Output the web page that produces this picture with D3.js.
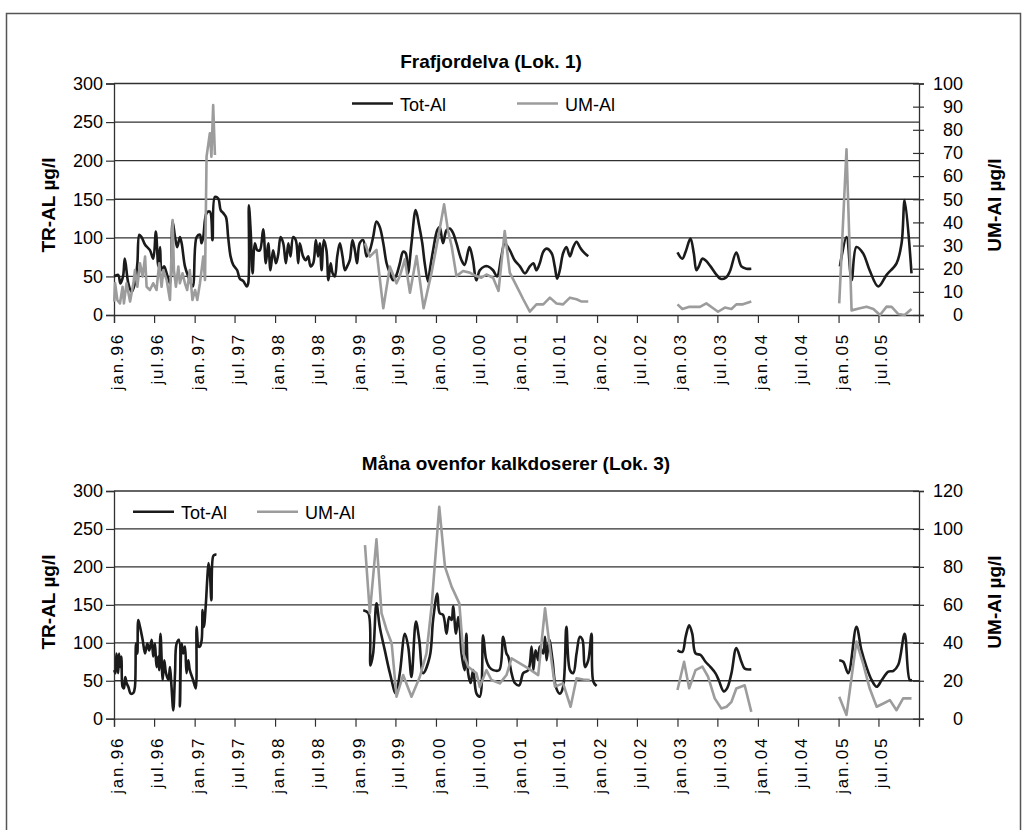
<!DOCTYPE html>
<html>
<head>
<meta charset="utf-8">
<script src="https://cdn.jsdelivr.net/npm/d3@7"></script>
<style>
  body { margin: 0; background: #fff; }
  svg { display: block; }
  text { font-family: "Liberation Sans", Arial, Helvetica, sans-serif; fill: #000; }
</style>
</head>
<body>
<svg id="chart" width="1027" height="830"></svg>
<script>
// ---- Data: aluminium measurements, [sampling date, µg/l]; null marks a break in the series ----
const xTickLabels = ["jan.96","jul.96","jan.97","jul.97","jan.98","jul.98","jan.99","jul.99","jan.00","jul.00",
                     "jan.01","jul.01","jan.02","jul.02","jan.03","jul.03","jan.04","jul.04","jan.05","jul.05"];

// Frafjordelva (Lok. 1) – Tot-Al
const lok1TotAl = [
  ["1996-01-02",50],["1996-01-20",52],["1996-01-30",41],["1996-02-11",50],["1996-02-19",73],["1996-03-06",41],
  ["1996-03-21",30],["1996-04-05",41],["1996-04-16",67],["1996-04-25",104],["1996-05-05",101],["1996-05-21",91],
  ["1996-06-12",84],["1996-06-27",73],["1996-07-09",108],["1996-07-20",63],["1996-07-28",88],["1996-08-04",58],
  ["1996-08-15",63],["1996-08-27",54],["1996-09-11",41],["1996-09-23",121],["1996-10-04",101],["1996-10-14",88],
  ["1996-10-26",101],["1996-11-03",93],["1996-11-18",63],["1996-12-03",50],["1996-12-23",37],["1997-01-10",101],
  ["1997-01-25",104],["1997-02-01",93],["1997-02-09",101],["1997-02-24",132],["1997-03-11",134],["1997-03-23",97],
  ["1997-04-03",153],["1997-04-18",151],["1997-04-29",136],["1997-05-11",132],["1997-05-23",127],["1997-06-02",101],
  ["1997-06-13",76],["1997-06-25",65],["1997-07-13",58],["1997-07-25",47],["1997-08-10",44],["1997-08-25",37],
  ["1997-09-01",41],["1997-09-04",142],["1997-09-12",110],["1997-09-21",54],["1997-10-01",93],["1997-10-12",84],
  ["1997-10-24",84],["1997-11-08",111],["1997-11-20",67],["1997-12-01",93],["1997-12-11",58],["1997-12-23",84],
  ["1998-01-05",67],["1998-01-15",78],["1998-01-26",101],["1998-02-07",93],["1998-02-19",67],["1998-03-02",93],
  ["1998-03-12",76],["1998-03-24",101],["1998-04-05",97],["1998-04-16",67],["1998-04-23",93],["1998-05-08",76],
  ["1998-05-20",71],["1998-05-31",76],["1998-06-11",63],["1998-06-23",67],["1998-07-05",97],["1998-07-15",76],
  ["1998-07-23",93],["1998-07-31",58],["1998-08-10",97],["1998-08-22",84],["1998-08-31",45],["1998-09-10",67],
  ["1998-09-19",54],["1998-09-29",50],["1998-10-10",76],["1998-10-22",93],["1998-11-03",76],["1998-11-14",58],
  ["1998-11-24",63],["1998-12-06",71],["1998-12-18",97],["1998-12-29",84],["1999-01-08",67],["1999-01-20",93],
  ["1999-02-05",97],["1999-02-20",76],["1999-03-07",84],["1999-03-22",101],["1999-04-06",121],["1999-04-21",114],
  ["1999-05-07",93],["1999-05-22",67],["1999-06-06",54],["1999-06-21",45],["1999-07-06",52],["1999-07-21",67],
  ["1999-08-05",82],["1999-08-17",80],["1999-08-27",54],["1999-09-12",93],["1999-10-01",136],["1999-10-16",117],
  ["1999-10-31",93],["1999-11-11",67],["1999-11-26",43],["1999-12-04",58],["1999-12-19",84],["2000-01-07",110],
  ["2000-01-18",114],["2000-02-02",93],["2000-02-18",110],["2000-03-04",112],["2000-03-19",106],["2000-04-03",93],
  ["2000-04-26",71],["2000-05-10",65],["2000-06-01",88],["2000-06-17",71],["2000-07-02",45],["2000-07-18",58],
  ["2000-08-09",63],["2000-08-24",63],["2000-09-16",58],["2000-10-04",50],["2000-10-24",76],["2000-11-08",93],
  ["2000-12-01",84],["2000-12-23",71],["2001-01-16",63],["2001-02-08",54],["2001-03-02",63],["2001-03-18",67],
  ["2001-04-01",58],["2001-04-16",67],["2001-05-02",82],["2001-05-17",86],["2001-06-09",80],["2001-06-23",63],
  ["2001-07-04",47],["2001-07-16",58],["2001-07-31",80],["2001-08-15",88],["2001-08-31",76],["2001-09-15",88],
  ["2001-09-30",95],["2001-10-15",88],["2001-10-30",82],["2001-11-22",76],
  ["2002-06-01",null],
  ["2003-01-01",81],["2003-01-23",73],["2003-02-07",82],["2003-03-01",99],["2003-03-16",80],["2003-03-28",58],
  ["2003-04-08",63],["2003-04-24",73],["2003-05-08",71],["2003-05-31",63],["2003-06-22",54],["2003-07-15",47],
  ["2003-08-07",48],["2003-08-26",56],["2003-09-25",81],["2003-10-18",63],["2003-11-10",60],["2003-12-02",60],
  ["2004-06-01",null],
  ["2005-01-07",63],["2005-02-06",101],["2005-03-01",45],["2005-03-23",88],["2005-04-22",80],["2005-05-22",58],
  ["2005-06-30",37],["2005-08-07",52],["2005-09-21",67],["2005-10-14",93],["2005-10-28",149],["2005-11-28",54]
];

// Frafjordelva (Lok. 1) – UM-Al
const lok1UmAl = [
  ["1996-01-02",5.8],["1996-01-06",13.7],["1996-01-16",6.5],["1996-01-28",5],["1996-02-09",12.2],["1996-02-15",5],
  ["1996-02-27",13.7],["1996-03-14",5.8],["1996-03-29",13.7],["1996-04-05",19.4],["1996-04-16",12.2],["1996-04-28",22.3],
  ["1996-05-10",16.6],["1996-05-21",25.2],["1996-05-28",12.2],["1996-06-12",10.8],["1996-06-27",13.7],["1996-07-12",10.8],
  ["1996-07-24",22.3],["1996-08-04",12.2],["1996-08-12",19.4],["1996-08-27",15.1],["1996-09-11",6.5],["1996-09-23",41],
  ["1996-09-29",19.4],["1996-10-08",12.2],["1996-10-19",20.9],["1996-10-26",13.7],["1996-11-07",18],["1996-11-18",13.7],
  ["1996-11-28",10.8],["1996-12-10",19.4],["1996-12-22",6.5],["1997-01-03",10.8],["1997-01-13",6.5],["1997-01-25",13.7],
  ["1997-02-09",25.2],["1997-02-17",15.1],["1997-02-24",68.4],["1997-03-11",78.5],["1997-03-18",68.4],["1997-03-26",90.7],
  ["1997-04-03",69.1],
  ["1998-01-01",null],
  ["1999-02-13",31],["1999-03-07",25.2],["1999-04-06",28.1],["1999-05-07",2.9],["1999-06-06",20.9],["1999-07-06",13.7],
  ["1999-07-21",16.8],["1999-08-13",24],["1999-09-05",9.6],["1999-10-05",25.5],["1999-11-06",2.9],["1999-12-12",18.3],
  ["2000-01-04",29.8],["2000-02-07",47.8],["2000-02-25",36.3],["2000-03-12",29.8],["2000-04-03",16.8],["2000-05-03",19],
  ["2000-06-02",18.3],["2000-07-02",16.8],["2000-07-25",16.1],["2000-08-17",17.5],["2000-09-16",16.1],["2000-10-11",10.4],
  ["2000-11-08",36.3],["2000-12-01",18.3],["2001-01-01",12.5],["2001-01-31",6.8],["2001-03-02",1.5],["2001-04-01",4.6],
  ["2001-05-02",4.6],["2001-06-01",7.5],["2001-07-01",5],["2001-07-31",4.6],["2001-08-31",7.5],["2001-09-30",6.8],
  ["2001-10-23",5.8],["2001-11-22",5.8],
  ["2002-06-01",null],
  ["2003-01-01",4.6],["2003-01-23",2.6],["2003-02-21",3.5],["2003-03-22",3.5],["2003-04-13",3.5],["2003-05-12",5],
  ["2003-06-12",2.9],["2003-07-04",1.4],["2003-08-04",3.2],["2003-09-03",2.6],["2003-09-25",4.6],["2003-10-25",4.6],
  ["2003-12-02",5.8],
  ["2004-06-01",null],
  ["2005-01-04",5],["2005-02-06",71.6],["2005-03-01",2],["2005-04-08",2.9],["2005-05-08",3.6],["2005-06-08",2.6],
  ["2005-07-08",0],["2005-08-07",3.6],["2005-08-30",3.5],["2005-09-29",0.4],["2005-10-28",0],["2005-11-28",2.6]
];

// Måna ovenfor kalkdoserer (Lok. 3) – Tot-Al
const lok3TotAl = [
  ["1996-01-02",64],["1996-01-08",60],["1996-01-12",86],["1996-01-16",77],["1996-01-20",60],["1996-01-24",86],
  ["1996-01-30",68],["1996-02-04",82],["1996-02-09",42],["1996-02-15",40],["1996-02-21",55],["1996-02-27",47],
  ["1996-03-06",42],["1996-03-17",33],["1996-03-29",34],["1996-04-05",42],["1996-04-10",99],["1996-04-16",86],
  ["1996-04-20",130],["1996-04-28",121],["1996-05-10",104],["1996-05-21",86],["1996-05-31",99],["1996-06-09",90],
  ["1996-06-20",104],["1996-06-27",82],["1996-07-05",99],["1996-07-12",68],["1996-07-20",82],["1996-07-24",64],
  ["1996-07-30",112],["1996-08-09",51],["1996-08-16",77],["1996-08-24",60],["1996-09-04",51],["1996-09-11",68],
  ["1996-09-18",42],["1996-09-26",11],["1996-10-04",60],["1996-10-11",99],["1996-10-22",104],["1996-10-26",16],
  ["1996-11-03",99],["1996-11-10",86],["1996-11-18",95],["1996-11-25",60],["1996-12-03",77],["1996-12-10",64],
  ["1996-12-25",51],["1997-01-06",40],["1997-01-10",121],["1997-01-19",95],["1997-01-25",95],["1997-02-02",104],
  ["1997-02-06",143],["1997-02-12",121],["1997-02-21",152],["1997-02-27",183],["1997-03-05",205],["1997-03-11",192],
  ["1997-03-18",156],["1997-03-26",214],["1997-04-03",216],["1997-04-10",216],
  ["1998-06-01",null],
  ["1999-02-05",143],["1999-02-28",139],["1999-03-10",70],["1999-03-22",86],["1999-04-06",152],["1999-04-21",121],
  ["1999-05-14",90],["1999-06-06",60],["1999-07-03",33],["1999-07-21",60],["1999-08-13",112],["1999-08-28",95],
  ["1999-09-12",55],["1999-10-02",128],["1999-10-17",104],["1999-11-04",60],["1999-12-04",82],["1999-12-19",130],
  ["2000-01-07",165],["2000-01-18",139],["2000-02-02",137],["2000-02-18",112],["2000-03-01",134],["2000-03-12",130],
  ["2000-03-19",148],["2000-04-01",112],["2000-04-11",134],["2000-04-19",117],["2000-04-26",86],["2000-05-10",64],
  ["2000-05-18",112],["2000-05-26",60],["2000-06-06",47],["2000-06-18",64],["2000-07-03",33],["2000-07-18",29],
  ["2000-08-02",110],["2000-08-15",79],["2000-08-30",68],["2000-09-17",64],["2000-10-14",64],["2000-11-01",108],
  ["2000-11-16",86],["2000-11-24",82],["2000-12-09",60],["2000-12-24",47],["2001-01-13",44],["2001-01-31",60],
  ["2001-02-23",64],["2001-03-10",95],["2001-03-18",64],["2001-03-28",90],["2001-04-09",77],["2001-04-16",95],
  ["2001-05-02",86],["2001-05-10",108],["2001-05-17",77],["2001-05-29",104],["2001-06-13",77],["2001-06-28",42],
  ["2001-07-16",33],["2001-07-31",42],["2001-08-15",121],["2001-08-31",64],["2001-09-15",60],["2001-09-30",86],
  ["2001-10-15",108],["2001-10-27",104],["2001-11-07",68],["2001-11-22",77],["2001-12-07",112],["2001-12-15",49],
  ["2001-12-30",43],
  ["2002-06-01",null],
  ["2003-01-01",90],["2003-01-23",88],["2003-02-07",108],["2003-02-23",123],["2003-03-09",112],["2003-03-24",86],
  ["2003-04-16",84],["2003-05-08",75],["2003-05-31",68],["2003-06-22",60],["2003-07-07",51],["2003-07-30",36],
  ["2003-08-14",40],["2003-09-03",60],["2003-09-25",93],["2003-10-18",75],["2003-11-02",66],["2003-12-02",65],
  ["2004-06-01",null],
  ["2005-01-04",77],["2005-01-22",75],["2005-02-14",60],["2005-03-23",121],["2005-04-15",90],["2005-05-08",68],
  ["2005-05-31",51],["2005-06-23",42],["2005-07-16",51],["2005-08-15",62],["2005-09-07",63],["2005-09-29",71],
  ["2005-10-28",112],["2005-11-20",51],["2005-12-01",51]
];

// Måna ovenfor kalkdoserer (Lok. 3) – UM-Al
const lok3UmAl = [
  ["1999-02-13",91.5],["1999-03-07",55.6],["1999-04-06",94.5],["1999-04-29",55.6],["1999-05-22",46.8],["1999-06-14",39.8],
  ["1999-07-06",11.6],["1999-08-05",23],["1999-09-12",11.6],["1999-10-20",22.1],["1999-11-19",34.4],["1999-12-12",59],
  ["2000-01-16",111.7],["2000-02-11",80],["2000-03-12",69.6],["2000-04-16",60.8],["2000-05-04",34.4],["2000-05-26",27.4],
  ["2000-07-03",23.9],["2000-07-18",16.8],["2000-08-17",25.6],["2000-09-09",20.4],["2000-10-17",18.6],["2000-11-16",23],
  ["2000-12-09",31.8],["2001-01-16",29.2],["2001-02-23",26.5],["2001-04-09",23],["2001-05-10",58.2],["2001-06-01",37.1],
  ["2001-06-24",16.9],["2001-07-31",18.6],["2001-09-03",6.3],["2001-09-30",21.3],["2001-10-30",20.7],["2001-11-29",20.4],
  ["2002-06-01",null],
  ["2003-01-01",15.1],["2003-01-31",30],["2003-02-23",16],["2003-03-24",25.6],["2003-04-24",27.4],["2003-05-20",22.1],
  ["2003-06-19",10.7],["2003-07-19",5.4],["2003-08-12",6.3],["2003-09-03",8.9],["2003-09-25",15.9],["2003-11-02",17.6],
  ["2003-12-02",3.6],
  ["2004-06-01",null],
  ["2005-01-04",11.6],["2005-02-06",2],["2005-03-23",40.6],["2005-04-22",29.2],["2005-05-22",16],["2005-06-23",6.3],
  ["2005-07-23",8],["2005-08-22",9.8],["2005-09-21",4.5],["2005-10-21",10.7],["2005-11-28",10.7]
];

const totTicks = [0, 50, 100, 150, 200, 250, 300];
const lok1UmTicks = [0, 10, 20, 30, 40, 50, 60, 70, 80, 90, 100];
const lok3UmTicks = [0, 20, 40, 60, 80, 100, 120];

// ---- Layout ----
const svg = d3.select("#chart");
const parseDate = d3.timeParse("%Y-%m-%d");
const left = 114, right = 919;
const black = "#1b1b1b", grey = "#9c9c9c", gridColor = "#303030";
const sans = '"Liberation Sans", Arial, sans-serif';

const x = d3.scaleTime()
  .domain([new Date(1996, 0, 1), new Date(2006, 0, 1)])
  .range([left, right]);
const xTickDates = d3.timeMonth.every(6).range(new Date(1996, 0, 1), new Date(2006, 0, 1));

// outer frame
svg.append("rect")
  .attr("x", 6.5).attr("y", 13.5).attr("width", 1014).attr("height", 840)
  .attr("fill", "none").attr("stroke", "#555").attr("stroke-width", 1.5);

const panels = [
  { title: "Frafjordelva (Lok. 1)", titleX: 491, titleY: 68, top: 83.5, bottom: 315,
    tot: lok1TotAl, um: lok1UmAl, umTicks: lok1UmTicks,
    legendY: 103.5, legendTotX: 352, legendUmX: 517, axisTitleY: 205 },
  { title: "Måna ovenfor kalkdoserer (Lok. 3)", titleX: 516, titleY: 470, top: 491, bottom: 718.7,
    tot: lok3TotAl, um: lok3UmAl, umTicks: lok3UmTicks,
    legendY: 511.7, legendTotX: 133, legendUmX: 257, axisTitleY: 602 }
];

panels.forEach(p => {
  const g = svg.append("g");
  const yTot = d3.scaleLinear().domain([0, 300]).range([p.bottom, p.top]);
  const yUm = d3.scaleLinear().domain([0, d3.max(p.umTicks)]).range([p.bottom, p.top]);

  // chart title
  g.append("text").attr("x", p.titleX).attr("y", p.titleY)
    .attr("text-anchor", "middle").attr("font-size", 19).attr("font-weight", "bold")
    .text(p.title);

  // horizontal gridlines
  g.append("g").selectAll("line").data(totTicks.slice(1)).join("line")
    .attr("x1", left).attr("x2", right)
    .attr("y1", d => yTot(d)).attr("y2", d => yTot(d))
    .attr("stroke", gridColor).attr("stroke-width", 1.3);

  // left axis
  const la = g.append("g").attr("transform", `translate(${left},0)`)
    .call(d3.axisLeft(yTot).tickValues(totTicks).tickSize(8).tickPadding(3));
  la.select(".domain").attr("stroke", gridColor).attr("stroke-width", 1.3);
  la.selectAll(".tick line").attr("stroke", gridColor).attr("stroke-width", 1.2);
  la.selectAll(".tick text").attr("font-size", 18).attr("fill", "#000").attr("font-family", sans);

  // right axis (crossing ticks)
  const ra = g.append("g").attr("transform", `translate(${right},0)`)
    .call(d3.axisRight(yUm).tickValues(p.umTicks).tickSize(5).tickPadding(0).tickFormat(d3.format("d")));
  ra.select(".domain").attr("stroke", gridColor).attr("stroke-width", 1.3);
  ra.selectAll(".tick line").attr("x1", -6).attr("stroke", gridColor).attr("stroke-width", 1.2);
  ra.selectAll(".tick text").attr("x", 44).attr("text-anchor", "end").attr("font-size", 18)
    .attr("fill", "#000").attr("font-family", sans);

  // bottom axis with rotated month labels
  const ba = g.append("g").attr("transform", `translate(0,${p.bottom})`)
    .call(d3.axisBottom(x).tickValues(xTickDates).tickSize(8)
      .tickFormat((d, i) => xTickLabels[i]));
  ba.select(".domain").attr("stroke", gridColor).attr("stroke-width", 1.3);
  ba.selectAll(".tick line").attr("stroke", gridColor).attr("stroke-width", 1.2);
  ba.selectAll(".tick text")
    .attr("font-size", 17).attr("fill", "#000").attr("letter-spacing", 1.8)
    .attr("font-family", sans)
    .attr("text-anchor", "end").attr("dy", null)
    .attr("transform", "translate(3,18) rotate(-90)")
    .attr("x", 0).attr("y", 0).attr("dominant-baseline", "central");

  // axis titles
  g.append("text").attr("transform", `translate(48,${p.axisTitleY}) rotate(-90)`)
    .attr("text-anchor", "middle").attr("dominant-baseline", "central")
    .attr("font-size", 19).attr("font-weight", "bold").text("TR-AL µg/l");
  g.append("text").attr("transform", `translate(994,${p.axisTitleY}) rotate(-90)`)
    .attr("text-anchor", "middle").attr("dominant-baseline", "central")
    .attr("font-size", 19).attr("font-weight", "bold").text("UM-Al µg/l");

  // series
  const totLine = d3.line().defined(d => d[1] !== null)
    .x(d => x(parseDate(d[0]))).y(d => yTot(d[1]))
    .curve(d3.curveCatmullRom.alpha(0.5));
  const umLine = d3.line().defined(d => d[1] !== null)
    .x(d => x(parseDate(d[0]))).y(d => yUm(d[1]));

  g.append("path").datum(p.tot).attr("d", totLine)
    .attr("fill", "none").attr("stroke", black).attr("stroke-width", 2.6).attr("stroke-linejoin", "round");
  g.append("path").datum(p.um).attr("d", umLine)
    .attr("fill", "none").attr("stroke", grey).attr("stroke-width", 2.6).attr("stroke-linejoin", "round");

  // legend
  const lg = g.append("g");
  [[p.legendTotX, black, "Tot-Al"], [p.legendUmX, grey, "UM-Al"]].forEach(([lx, col, label]) => {
    lg.append("line").attr("x1", lx).attr("x2", lx + 41).attr("y1", p.legendY).attr("y2", p.legendY)
      .attr("stroke", col).attr("stroke-width", 2.6);
    lg.append("text").attr("x", lx + 48).attr("y", p.legendY + 1.5).attr("dominant-baseline", "central")
      .attr("font-size", 18).text(label);
  });
});
</script>
</body>
</html>
